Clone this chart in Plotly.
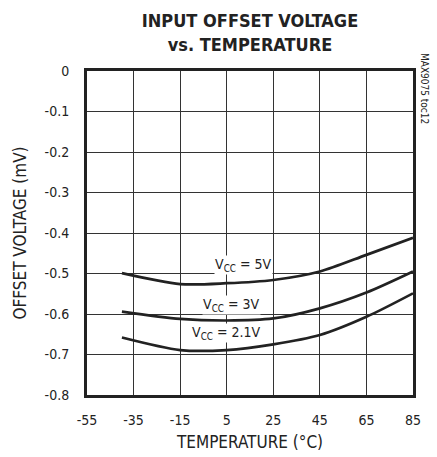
import plotly.graph_objects as go

temps = [-40, -15, 5, 25, 45, 65, 85]
v5 = [-0.499, -0.526, -0.524, -0.516, -0.495, -0.454, -0.412]
v3 = [-0.594, -0.612, -0.616, -0.611, -0.586, -0.547, -0.495]
v21 = [-0.658, -0.689, -0.689, -0.675, -0.652, -0.607, -0.549]

labels = ["V<sub>CC</sub> = 5V", "V<sub>CC</sub> = 3V", "V<sub>CC</sub> = 2.1V"]
label_x = [12, 7, 5]
label_y = [-0.479, -0.578, -0.647]

x_ticks = [-55, -35, -15, 5, 25, 45, 65, 85]
x_ticktext = ["-55", "-35", "-15", "5", "25", "45", "65", "85"]
y_ticks = [0, -0.1, -0.2, -0.3, -0.4, -0.5, -0.6, -0.7, -0.8]
y_ticktext = ["0", "-0.1", "-0.2", "-0.3", "-0.4", "-0.5", "-0.6", "-0.7", "-0.8"]

FONT = "DejaVu Sans Condensed, Liberation Sans Narrow, Roboto, sans-serif"

fig = go.Figure()
for ys in (v5, v3, v21):
    fig.add_trace(go.Scatter(x=temps, y=ys, mode="lines", line=dict(color="#222", width=2.7, shape="spline", smoothing=0.8),
                             showlegend=False, hoverinfo="skip"))

for t, lx, ly in zip(labels, label_x, label_y):
    fig.add_annotation(x=lx, y=ly, text=t, showarrow=False, bgcolor="white",
                       font=dict(family=FONT, size=14, color="#222"), borderpad=0)

fig.update_layout(
    width=437, height=457,
    margin=dict(l=87, r=24, t=71, b=62, autoexpand=False),
    paper_bgcolor="white", plot_bgcolor="white",
    title=dict(text="<b>INPUT OFFSET VOLTAGE<br>vs. TEMPERATURE</b>", x=250/437, xanchor="center",
               y=0.94, yanchor="top", font=dict(family=FONT, size=18, color="#222")),
    font=dict(family=FONT, size=14, color="#222"),
)
fig.update_xaxes(range=[-55, 85], tickvals=x_ticks, ticktext=x_ticktext, showgrid=True, gridcolor="#333", gridwidth=1,
                 showline=True, linecolor="#222", linewidth=3, mirror=True, zeroline=False, ticks="",
                 title=dict(text="TEMPERATURE (°C)", standoff=10), ticklabelstandoff=10, automargin=False)
fig.update_yaxes(range=[-0.8, 0], tickvals=y_ticks, ticktext=y_ticktext, showgrid=True, gridcolor="#333", gridwidth=1,
                 showline=True, linecolor="#222", linewidth=3, mirror=True, zeroline=False, ticks="",
                 title=dict(text="OFFSET VOLTAGE (mV)", standoff=14), ticklabelstandoff=12, automargin=False)

fig.add_annotation(x=(425 - 87) / 326, y=(395 - 88) / 324, xref="paper", yref="paper", text="MAX9075 toc12", textangle=90,
                   showarrow=False, font=dict(family=FONT, size=10, color="#222"), yanchor="middle", xanchor="center")

fig.write_html("out.html")
